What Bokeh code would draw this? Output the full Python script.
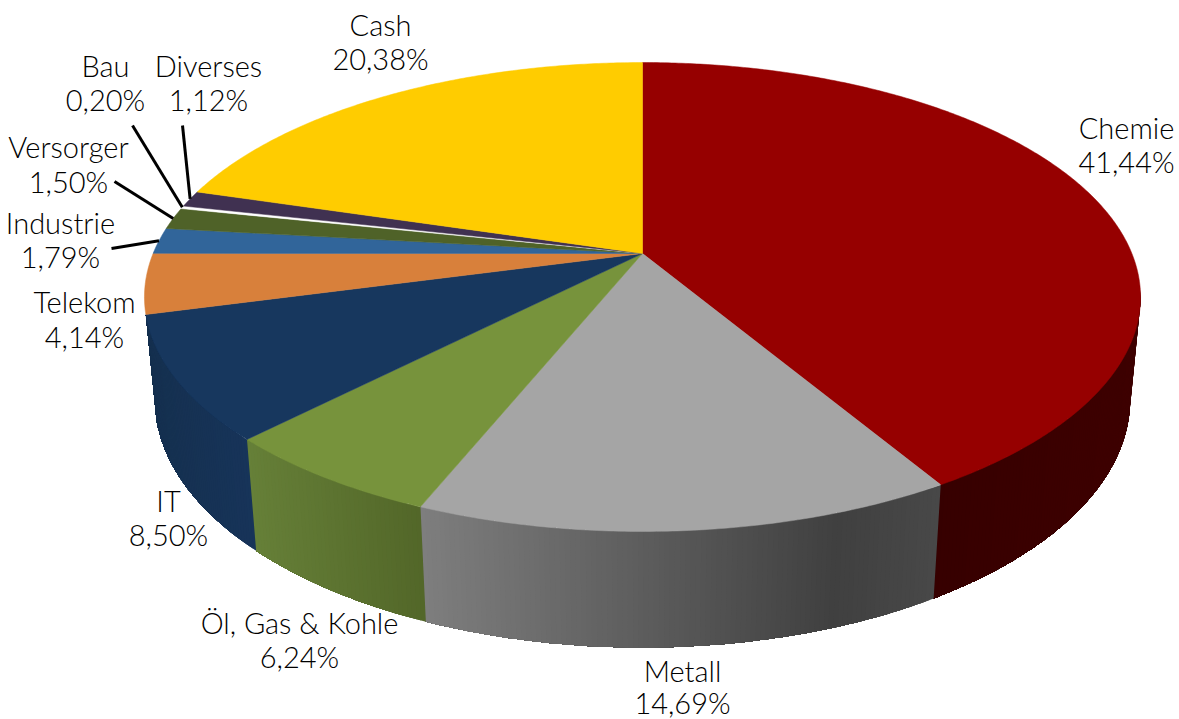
import numpy as np
from bokeh.plotting import figure
from bokeh.models import Range1d
from bokeh.core.properties import value
from bokeh.embed import file_html
from bokeh.resources import INLINE

categories = ["Chemie", "Metall", "Öl, Gas & Kohle", "IT", "Telekom", "Industrie",
              "Versorger", "Bau", "Diverses", "Cash"]
shares = [41.44, 14.69, 6.24, 8.50, 4.14, 1.79, 1.50, 0.20, 1.12, 20.38]
top_colors = ["#960000", "#a5a5a5", "#77933c", "#17375e", "#d8803b", "#31659a",
              "#4f6228", "#ffffff", "#403151", "#ffcc00"]
# side wall shading: stops (fraction across the slice, colour)
side_stops = {
    "Chemie": [(0, "#360000"), (1, "#3e0000")],
    "Metall": [(0, "#7e7e7e"), (0.8, "#404040"), (1, "#484848")],
    "Öl, Gas & Kohle": [(0, "#668038"), (1, "#526628")],
    "IT": [(0, "#15304f"), (1, "#17345a")],
}

# label layout (page pixels): centre x, y of first and second line
label_x = [1126, 682, 299, 168, 84, 60, 68, 105, 208, 380]
label_y1 = [127, 670, 622, 500, 301, 222, 146, 65, 65, 24]
label_y2 = [161, 702, 656, 534, 336, 256, 181, 99, 99, 58]
leader_from = {"Industrie": (111, 248), "Versorger": (114, 181), "Bau": (132, 125), "Diverses": (182, 125)}

# projection of the unit disc to the page
CX, CY, A, B, K = 642.0, 253.0, 226.4, 489.4, 0.1855
M, C = 0.0205, 102.6


def project(theta, lower=False):
    x, y = np.sin(theta), np.cos(theta)
    w = 1 + K * y + (M if lower else 0)
    off = C if lower else 0
    return CX + B * x / w, CY + (-A * y + off) / w


def shade(stops, f):
    pos = [s[0] for s in stops]
    chans = [[int(s[1][i:i + 2], 16) for s in stops] for i in (1, 3, 5)]
    return "#%02x%02x%02x" % tuple(int(round(np.interp(f, pos, ch))) for ch in chans)


p = figure(width=1179, height=719, output_backend="svg", toolbar_location=None,
           x_range=Range1d(0, 1179), y_range=Range1d(719, 0),
           min_border=0, outline_line_color=None)
p.xaxis.visible = False
p.yaxis.visible = False
p.grid.visible = False

edges = np.concatenate([[0], np.cumsum(shares)]) / sum(shares) * 2 * np.pi
mids = (edges[:-1] + edges[1:]) / 2

# side wall: overlapping strips, so no seams show between them
for i, c in enumerate(categories):
    if c not in side_stops:
        continue
    t0 = max(edges[i], np.radians(99))
    t1 = edges[i + 1]
    n = max(8, int((t1 - t0) / np.radians(0.5)))
    th = np.linspace(t0, t1, n + 1)
    xt, yt = project(th)
    xb, yb = project(th, True)
    xmin, xmax = min(xt.min(), xb.min()), max(xt.max(), xb.max())
    xs, ys, cols = [], [], []
    order = range(n)
    for j in order:
        # each strip reaches to the far end of the slice; later strips paint over it
        xs.append(list(xt[j:]) + list(xb[j:][::-1]))
        ys.append(list(yt[j:]) + list(yb[j:][::-1]))
        f = ((xt[j] + xt[j + 1]) / 2 - xmin) / (xmax - xmin)
        cols.append(shade(side_stops[c], f))
    p.patches(xs, ys, fill_color=cols, line_color=None)

# top face
xs, ys = [], []
for i in range(len(categories)):
    th = np.linspace(edges[i], edges[i + 1], max(4, int((edges[i + 1] - edges[i]) / np.radians(0.5))))
    x, y = project(th)
    xs.append([CX] + list(x))
    ys.append([CY] + list(y))
p.patches(xs, ys, fill_color=top_colors, line_color=top_colors, line_width=0.5)

# leader lines
for c, (lx, ly) in leader_from.items():
    ex, ey = project(mids[categories.index(c)])
    p.line([lx, float(ex)], [ly, float(ey)], line_color="black", line_width=3)

# labels
pct = [f"{v:.2f}%".replace(".", ",") for v in shares]
font = dict(text_font=value("Lato Light"), text_font_size="29px", text_color="#000000",
            text_align="center", text_baseline="middle")
p.text(label_x, label_y1, text=categories, **font)
p.text(label_x, label_y2, text=pct, **font)

open("out.html", "w").write(file_html(p, INLINE))
